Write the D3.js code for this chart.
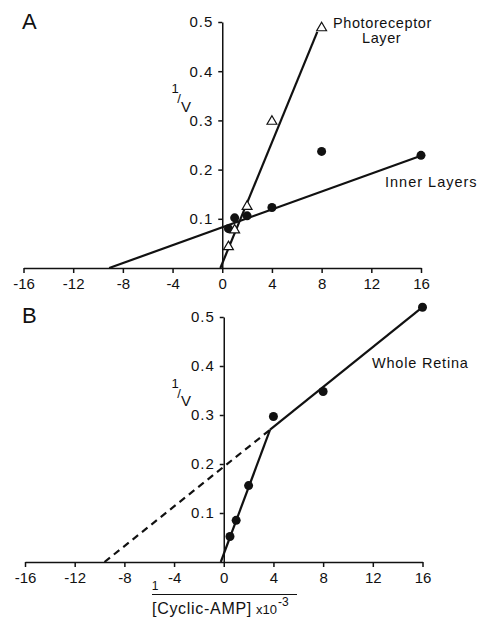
<!DOCTYPE html>
<html>
<head>
<meta charset="utf-8">
<script src="https://cdn.jsdelivr.net/npm/d3@7"></script>
<style>
  body { margin: 0; background: #fff; }
  text { font-family: "Liberation Sans", Arial, sans-serif; fill: #111; }
</style>
</head>
<body>
<div id="my_dataviz"></div>
<script>
// tick values
var xTicks = [-16, -12, -8, -4, 0, 4, 8, 12, 16];
var yTicks = [0.1, 0.2, 0.3, 0.4, 0.5];

// panel A: photoreceptor layer (open triangles) and inner layers (dots)
var photoX = [0.5, 1, 2, 4, 8];
var photoY = [0.043, 0.077, 0.125, 0.298, 0.488];
var photoLineX = [-0.15, 7.65];
var photoLineY = [0, 0.48];

var innerX = [0.5, 1, 2, 4, 8, 16];
var innerY = [0.08, 0.102, 0.106, 0.123, 0.237, 0.229];
var innerLineX = [-9.1, 16];
var innerLineY = [0, 0.228];

// panel B: whole retina
var wholeX = [0.5, 1, 2, 4, 8, 16];
var wholeY = [0.052, 0.085, 0.156, 0.297, 0.348, 0.52];
var wholeLowX = [-0.24, 3.73];
var wholeLowY = [0, 0.27];
var wholeHighX = [3.73, 16];
var wholeHighY = [0.27, 0.52];
var wholeDashX = [-9.6, 3.73];
var wholeDashY = [0, 0.27];

var W = 478, H = 622;

var svg = d3.select("#my_dataviz")
    .append("svg")
    .attr("width", W)
    .attr("height", H);

function zip(xs, ys) {
    return xs.map(function (v, i) { return [v, ys[i]]; });
}

function drawPanel(g, x, y) {
    // X axis
    var xAxis = g.append("g")
        .attr("transform", "translate(0," + y(0) + ")")
        .call(d3.axisBottom(x).tickValues(xTicks).tickSize(5).tickSizeOuter(0).tickPadding(5)
            .tickFormat(function (d) { return d < 0 ? "-" + Math.abs(d) : d; }));
    // Y axis
    var yAxis = g.append("g")
        .attr("transform", "translate(" + x(0) + ",0)")
        .call(d3.axisLeft(y).tickValues(yTicks).tickSize(4).tickSizeOuter(0).tickPadding(5)
            .tickFormat(d3.format(".1f")));
    [xAxis, yAxis].forEach(function (a) {
        a.selectAll("path, line").attr("stroke", "#111").attr("stroke-width", 1.5);
        a.selectAll("text").attr("font-size", 15).attr("font-family", null).attr("fill", "#111");
    });
    yAxis.selectAll("text").attr("letter-spacing", 1);
}

function drawLine(g, x, y, xs, ys, dashed) {
    g.append("path")
        .datum(zip(xs, ys))
        .attr("fill", "none")
        .attr("stroke", "#111")
        .attr("stroke-width", 2.2)
        .attr("stroke-dasharray", dashed ? "7,5" : null)
        .attr("d", d3.line().x(function (d) { return x(d[0]); }).y(function (d) { return y(d[1]); }));
}

function drawDots(g, x, y, xs, ys) {
    g.append("g")
        .selectAll("circle")
        .data(zip(xs, ys))
        .enter()
        .append("circle")
        .attr("cx", function (d) { return x(d[0]); })
        .attr("cy", function (d) { return y(d[1]); })
        .attr("r", 4.5)
        .attr("fill", "#111");
}

function yLabel(g, x, y) {
    g.append("text").attr("x", 175).attr("y", y(0.355)).attr("font-size", 13).attr("text-anchor", "middle").text("1");
    g.append("text").attr("x", 179).attr("y", y(0.335)).attr("font-size", 13).attr("text-anchor", "middle").text("/");
    g.append("text").attr("x", 186).attr("y", y(0.318)).attr("font-size", 15).attr("text-anchor", "middle").text("V");
}

// ---------- panel A ----------
var xA = d3.scaleLinear().domain([-16, 16]).range([23.5, 421]);
var yA = d3.scaleLinear().domain([0, 0.5]).range([268, 22]);
var gA = svg.append("g");
drawPanel(gA, xA, yA);
drawLine(gA, xA, yA, innerLineX, innerLineY, false);
drawLine(gA, xA, yA, photoLineX, photoLineY, false);
drawDots(gA, xA, yA, innerX, innerY);
gA.append("g")
    .selectAll("path.tri")
    .data(zip(photoX, photoY))
    .enter()
    .append("path")
    .attr("class", "tri")
    .attr("transform", function (d) { return "translate(" + xA(d[0]) + "," + yA(d[1]) + ")"; })
    .attr("d", d3.symbol().type(d3.symbolTriangle).size(42))
    .attr("fill", "#fff")
    .attr("stroke", "#111")
    .attr("stroke-width", 1.2);
yLabel(gA, xA, yA);
gA.append("text").attr("x", 22).attr("y", 29).attr("font-size", 22).text("A");
gA.append("text").attr("x", 333).attr("y", 28).attr("font-size", 14.5).attr("letter-spacing", 0.6).text("Photoreceptor");
gA.append("text").attr("x", 362).attr("y", 43).attr("font-size", 14.5).attr("letter-spacing", 0.6).text("Layer");
gA.append("text").attr("x", 385).attr("y", 187).attr("font-size", 14.5).attr("letter-spacing", 1).text("Inner Layers");

// ---------- panel B ----------
var xB = d3.scaleLinear().domain([-16, 16]).range([25, 422.5]);
var yB = d3.scaleLinear().domain([0, 0.5]).range([562, 317]);
var gB = svg.append("g");
drawPanel(gB, xB, yB);
drawLine(gB, xB, yB, wholeDashX, wholeDashY, true);
drawLine(gB, xB, yB, wholeLowX, wholeLowY, false);
drawLine(gB, xB, yB, wholeHighX, wholeHighY, false);
drawDots(gB, xB, yB, wholeX, wholeY);
yLabel(gB, xB, yB);
gB.append("text").attr("x", 22).attr("y", 323).attr("font-size", 22).text("B");
gB.append("text").attr("x", 372).attr("y", 368).attr("font-size", 14.5).attr("letter-spacing", 0.8).text("Whole Retina");

// x axis title (fraction)
svg.append("text").attr("x", 155).attr("y", 590).attr("font-size", 12).attr("text-anchor", "middle").text("1");
svg.append("line").attr("x1", 152).attr("x2", 297).attr("y1", 594.5).attr("y2", 594.5)
    .attr("stroke", "#111").attr("stroke-width", 1);
var title = svg.append("text").attr("x", 152).attr("y", 614).attr("font-size", 16);
title.append("tspan").attr("letter-spacing", 0.7).text("[Cyclic-AMP]");
title.append("tspan").attr("dx", 4).attr("font-size", 13).text("x10");
title.append("tspan").attr("dx", 1).attr("dy", -8).attr("font-size", 12).text("-3");
</script>
</body>
</html>
